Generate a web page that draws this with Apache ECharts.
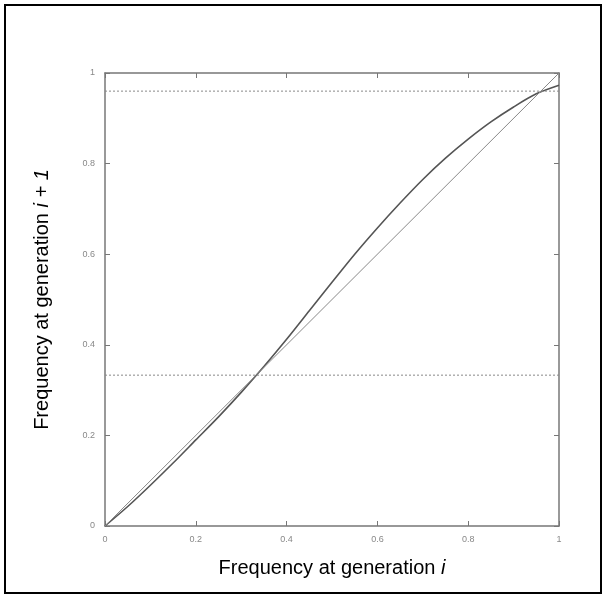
<!DOCTYPE html>
<html>
<head>
<meta charset="utf-8">
<script src="https://cdn.jsdelivr.net/npm/echarts@6/dist/echarts.min.js"></script>
<style>
  html, body { margin: 0; padding: 0; background: #fff; }
  #chart { width: 607px; height: 595px; }
</style>
</head>
<body>
<div id="chart"></div>
<script>
// frequency at generation i (x) and at generation i + 1 (y)
const freqNow = [0, 0.05, 0.1, 0.15, 0.2, 0.25, 0.3, 0.35, 0.4, 0.45, 0.5,
  0.55, 0.6, 0.65, 0.7, 0.75, 0.8, 0.85, 0.9, 0.95, 1];
const freqNext = [0, 0.043, 0.09, 0.139, 0.19, 0.241, 0.295, 0.352, 0.412, 0.475, 0.538,
  0.6, 0.658, 0.713, 0.765, 0.812, 0.854, 0.892, 0.925, 0.954, 0.973];
const diagonal = [[0, 0], [1, 1]];
const upperEq = 0.96;
const lowerEq = 0.333;
const tickVals = [0, 0.2, 0.4, 0.6, 0.8, 1];

const chartInst = echarts.init(document.getElementById("chart"));

const axisColor = "#777";
const labelStyle = { color: "#888", fontSize: 9, fontFamily: "Liberation Sans" };
const titleFont = "Liberation Sans";

function frameAxis(pos) {
  return {
    type: "value",
    position: pos,
    min: tickVals[0],
    max: tickVals[tickVals.length - 1],
    interval: 0.2,
    axisLine: { show: true, onZero: false, lineStyle: { color: axisColor, width: 1.5 } },
    axisTick: { show: true, inside: true, length: 5, lineStyle: { color: axisColor } },
    axisLabel: { show: false },
    splitLine: { show: false },
  };
}

const titleRich = {
  n: { fontSize: 20, color: "#000", fontFamily: titleFont },
  i: { fontSize: 20, color: "#000", fontFamily: titleFont, fontStyle: "italic" },
};

const option = {
  backgroundColor: "#fff",
  animation: false,
  grid: { left: 105, right: 48, top: 73, bottom: 69 },
  xAxis: [
    {
      ...frameAxis("bottom"),
      axisLabel: { show: true, margin: 9, ...labelStyle },
      name: "{n|Frequency at generation }{i|i}",
      nameLocation: "middle",
      nameGap: 32,
      nameTextStyle: { rich: titleRich },
    },
    frameAxis("top"),
  ],
  yAxis: [
    {
      ...frameAxis("left"),
      axisLabel: { show: true, margin: 10, ...labelStyle },
      name: "{n|Frequency at generation }{i|i + 1}",
      nameLocation: "middle",
      nameGap: 53,
      nameRotate: 90,
      nameTextStyle: { rich: titleRich },
    },
    frameAxis("right"),
  ],
  series: [
    {
      type: "line",
      data: freqNow.map((x, k) => [x, freqNext[k]]),
      smooth: 0.3,
      showSymbol: false,
      lineStyle: { color: "#555", width: 1.6 },
    },
    {
      type: "line",
      data: diagonal,
      showSymbol: false,
      lineStyle: { color: "#888", width: 1 },
    },
    {
      type: "line",
      data: [[0, upperEq], [1, upperEq]],
      showSymbol: false,
      lineStyle: { color: "#888", width: 1, type: [2, 2] },
    },
    {
      type: "line",
      data: [[0, lowerEq], [1, lowerEq]],
      showSymbol: false,
      lineStyle: { color: "#888", width: 1, type: [2, 2] },
    },
  ],
  graphic: [
    {
      type: "rect",
      shape: { x: 5, y: 5, width: 596, height: 588 },
      style: { fill: null, stroke: "#000", lineWidth: 2 },
      silent: true,
    },
  ],
};

chartInst.setOption(option);
</script>
</body>
</html>
